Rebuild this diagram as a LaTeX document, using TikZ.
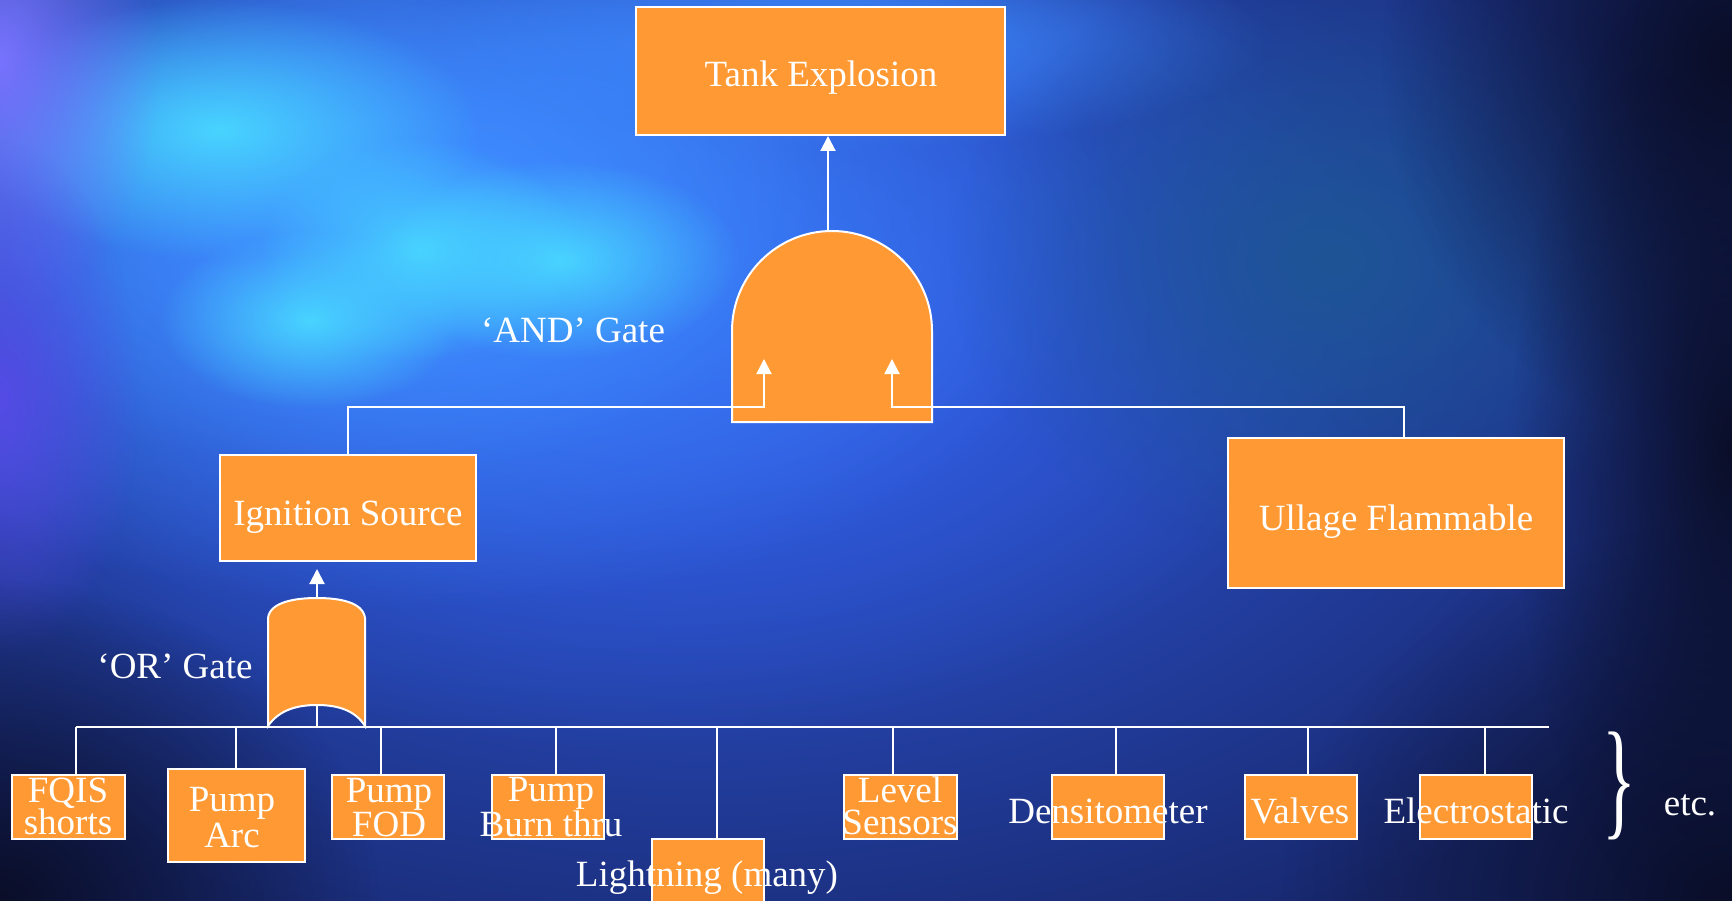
\documentclass[tikz,border=0pt]{standalone}
\usepackage{fontspec}
\setmainfont{Liberation Serif}
\usetikzlibrary{arrows.meta,fadings}
\definecolor{boxorange}{RGB}{255,153,51}
\definecolor{bgbase}{RGB}{24,40,110}
\definecolor{bgmid}{RGB}{50,95,232}
\definecolor{bgbright}{RGB}{62,140,255}
\definecolor{bgcyan}{RGB}{72,212,255}
\definecolor{bgpurple}{RGB}{120,115,255}
\definecolor{bgviolet}{RGB}{85,75,230}
\definecolor{bgteal}{RGB}{30,85,150}
\definecolor{bgdark}{RGB}{10,14,40}
\tikzfading[name=softblob, inner color=transparent!0, outer color=transparent!100]
\begin{document}
\begin{tikzpicture}[x=1pt,y=-1pt,
  box/.style={draw=white, line width=2pt, fill=boxorange, inner sep=0pt},
  txt/.style={text=white, font=\fontsize{37}{32}\selectfont, align=center, inner sep=0pt},
  wire/.style={draw=white, line width=2pt},
  tip/.style={wire, -{Triangle[width=15pt,length=15pt]}},
  gate/.style={draw=white, line width=2pt, fill=boxorange},
  blob/.style={path fading=softblob}]
\useasboundingbox (0,0) rectangle (1732,901);
\clip (0,0) rectangle (1732,901);
% background
\fill[bgbase] (0,0) rectangle (1732,901);
\fill[bgmid, blob] (700,330) ellipse (1150 and 700);
\fill[bgmid, blob] (600,300) ellipse (800 and 450);
\fill[bgbright, blob] (420,230) ellipse (700 and 380);
\fill[bgbright, blob] (380,200) ellipse (450 and 280);
\fill[bgcyan, blob] (220,130) ellipse (260 and 130);
\fill[bgcyan, blob] (420,250) ellipse (160 and 110);
\fill[bgcyan, blob] (310,320) ellipse (150 and 90);
\fill[bgcyan, blob] (560,260) ellipse (180 and 100);
\fill[bgbright, blob] (850,40) ellipse (420 and 110);
\fill[bgpurple, blob] (0,60) ellipse (160 and 260);
\fill[bgviolet, blob] (0,400) ellipse (140 and 260);
\fill[bgteal, blob] (1330,260) ellipse (380 and 300);
\fill[bgdark, blob] (0,901) ellipse (380 and 320);
\fill[bgdark, blob] (1732,901) ellipse (450 and 380);
\fill[bgdark, blob] (1732,60) ellipse (350 and 380);
\fill[bgdark, blob] (1732,450) ellipse (220 and 500);

% top boxes
\node[box, minimum width=369pt, minimum height=128pt] (tank) at (820.5,71) {};
\node[box, minimum width=256pt, minimum height=106pt] (ign) at (348,508) {};
\node[box, minimum width=336pt, minimum height=150pt] (ull) at (1396,513) {};
\node[txt] (ttank) at (821,78) {Tank Explosion};
\node[txt] (tign) at (348,517) {Ignition Source};
\node[txt] (tull) at (1396,522) {Ullage Flammable};

% AND gate
\path[gate] (732,422) -- (732,331) .. controls (732,275.8) and (776.8,231) .. (832,231)
  .. controls (887.2,231) and (932,275.8) .. (932,331) -- (932,422) -- cycle;
\coordinate (andtop) at (828,231);
\coordinate (andinL) at (764,359);
\coordinate (andinR) at (892,359);
\coordinate (busY) at (0,407);
\coordinate (ullin) at (1404,0);
\draw[tip] (andtop) -- (andtop |- tank.south);
\draw[tip] (ign.north) |- (andinL |- busY) -- (andinL);
\draw[tip] (ullin |- ull.north) |- (andinR |- busY) -- (andinR);
\node[txt] (andlbl) at (573,330) {‘AND’ Gate};

% OR gate
\path[gate] (268,726) -- (268,618) .. controls (270,602) and (295,598) .. (317,598)
  .. controls (339,598) and (363,602) .. (365,618) -- (365,726)
  .. controls (355,710) and (337,705) .. (317,705)
  .. controls (297,705) and (279,710) .. (268,726) -- cycle;
\coordinate (ortop) at (317,598);
\coordinate (orbot) at (317,705);
\draw[tip, shorten >=7pt] (ortop) -- (ortop |- ign.south);
\node[txt] (orlbl) at (175,666) {‘OR’ Gate};

% bus
\coordinate (busL) at (76,727);
\coordinate (busR) at (1549,727);
\draw[wire] (busL) -- (busR);
\draw[wire] (orbot) -- (orbot |- busL);

% bottom boxes
\node[box, minimum width=113pt, minimum height=64pt] (fqis) at (68.5,807) {};
\node[box, minimum width=137pt, minimum height=93pt] (arc) at (236.5,815.5) {};
\node[box, minimum width=112pt, minimum height=64pt] (fod) at (388,807) {};
\node[box, minimum width=112pt, minimum height=64pt] (burn) at (548,807) {};
\node[box, minimum width=112pt, minimum height=72pt] (light) at (708,875) {};
\node[box, minimum width=113pt, minimum height=64pt] (level) at (900.5,807) {};
\node[box, minimum width=112pt, minimum height=64pt] (dens) at (1108,807) {};
\node[box, minimum width=112pt, minimum height=64pt] (valv) at (1301,807) {};
\node[box, minimum width=112pt, minimum height=64pt] (elec) at (1476,807) {};

% drops
\foreach \x/\n in {76/fqis, 236/arc, 381/fod, 556/burn, 717/light, 893/level, 1116/dens, 1308/valv, 1485/elec}{
  \coordinate (d\n) at (\x,727);
  \draw[wire] (d\n) -- (d\n |- \n.north);
}

% bottom texts
\node[txt] (tfqis) at (68,806) {FQIS\\shorts};
\node[txt, font=\fontsize{37}{36}\selectfont] (tarc) at (232,818) {Pump\\Arc};
\node[txt, font=\fontsize{37}{34}\selectfont] (tfod) at (389,808) {Pump\\FOD};
\node[txt] (tburn) at (551,807) {Pump\\Burn thru};
\node[txt] (tlight) at (707,878) {Lightning (many)};
\node[txt] (tlevel) at (900,806) {Level\\Sensors};
\node[txt] (tdens) at (1108,811) {Densitometer};
\node[txt] (tvalv) at (1300,811) {Valves};
\node[txt] (telec) at (1476,811) {Electrostatic};

% brace and etc.
\node[text=white, inner sep=0pt] (brace) at (1619,786)
  {\scalebox{0.55}[1.02]{\fontsize{128}{128}\selectfont\}}};
\node[txt] (etc) at (1690,805) {etc.};
\end{tikzpicture}
\end{document}
